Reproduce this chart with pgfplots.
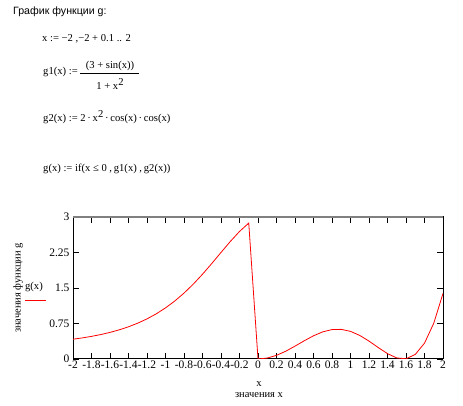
\documentclass[border=0pt]{standalone}
\usepackage{fontspec}
\setmainfont{Liberation Serif}
\newfontfamily\arial{Liberation Sans}
\usepackage{pgfplots}
\usepackage{pgfplotstable}
\pgfplotsset{compat=1.18}
\pgfplotstableread{
x y
-2.0 0.41814
-1.9 0.44549
-1.8 0.47787
-1.7 0.51628
-1.6 0.56192
-1.5 0.61616
-1.4 0.68059
-1.3 0.75704
-1.2 0.84752
-1.1 0.95420
-1.0 1.07926
-0.9 1.22468
-0.8 1.39186
-0.7 1.58106
-0.6 1.79070
-0.5 2.01646
-0.4 2.25050
-0.3 2.48117
-0.2 2.69359
-0.1 2.87145
0.0 0.00000
0.1 0.01980
0.2 0.07684
0.3 0.16428
0.4 0.27147
0.5 0.38508
0.6 0.49045
0.7 0.57329
0.8 0.62131
0.9 0.62597
1.0 0.58385
1.1 0.49791
1.2 0.37815
1.3 0.24186
1.4 0.11325
1.5 0.02252
1.6 0.00437
1.7 0.09595
1.8 0.33450
1.9 0.75461
2.0 1.38542
}\gdata
\begin{document}
\begin{tikzpicture}[x=1pt,y=1pt]
\useasboundingbox (0,0) rectangle (463,406);
\newcommand{\tf}{\fontsize{10.6}{12}\selectfont}
\node[anchor=base west,inner sep=0] at (13,391) {\arial\fontsize{10.6}{12}\selectfont График функции g:};
\node[anchor=base west,inner sep=0] at (42,364) {\tf x := −2 ,−2 + 0.1 .. 2};
\node[anchor=base west,inner sep=0] at (43,331) {\tf g1(x) :=};
\node[anchor=base,inner sep=0] at (110,337) {\tf (3 + sin(x))};
\draw[line width=0.5pt] (80,333) -- (139,333);
\node[anchor=base,inner sep=0] at (110,316) {\tf 1 + x\raisebox{0.9ex}{2}};
\node[anchor=base west,inner sep=0] at (43,284) {\tf g2(x) := 2\,·\,x\raisebox{0.9ex}{2}\,·\,cos(x)\,·\,cos(x)};
\node[anchor=base west,inner sep=0] at (43,234) {\tf g(x) := if(x ≤ 0 ,\,g1(x) ,\,g2(x))};
\begin{axis}[
  at={(73pt,47pt)}, anchor=south west,
  scale only axis, width=370pt, height=142pt,
  xmin=-2, xmax=2, ymin=0, ymax=3,
  xtick={-2,-1.8,-1.6,-1.4,-1.2,-1,-0.8,-0.6,-0.4,-0.2,0,0.2,0.4,0.6,0.8,1,1.2,1.4,1.6,1.8,2},
  xticklabels={-2,-1.8,-1.6,-1.4,-1.2,-1,-0.8,-0.6,-0.4,-0.2,0,0.2,0.4,0.6,0.8,1,1.2,1.4,1.6,1.8,2},
  ytick={0,0.75,1.5,2.25,3},
  yticklabels={0,0.75,1.5,2.25,3},
  tick align=inside, major tick length=6pt,
  tick style={black, line width=0.8pt},
  axis line style={black, line width=1pt},
  ticklabel style={font=\fontsize{11.5}{13}\selectfont},
  xticklabel style={inner sep=1.5pt},
  clip=true,
]
\addplot[red, line width=0.8pt] table[x=x,y=y] {\gdata};
\draw[gray, line width=2pt] (rel axis cs:0,1) -- (rel axis cs:1,1);
\end{axis}
\node[rotate=90,inner sep=0] at (18,118) {\fontsize{10.5}{12}\selectfont значения функции g};
\node[anchor=base,inner sep=0] at (34,116) {\tf g(x)};
\draw[red, line width=0.8pt] (25,106) -- (46,106);
\node[anchor=base,inner sep=0] at (259,19) {\tf x};
\node[anchor=base,inner sep=0] at (259,8) {\fontsize{10.5}{12}\selectfont значения x};
\end{tikzpicture}
\end{document}
